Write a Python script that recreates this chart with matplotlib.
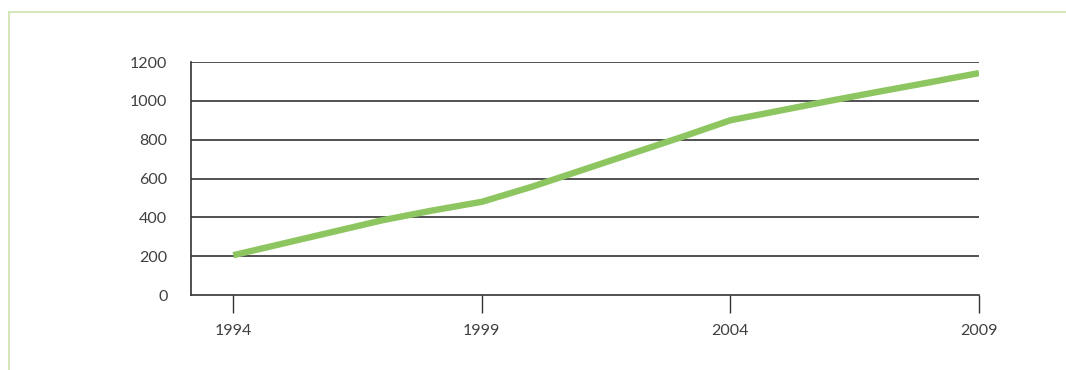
import matplotlib.pyplot as plt
from matplotlib.lines import Line2D

# values
years = [1994, 1995, 1996, 1997, 1998, 1999, 2000, 2001,
         2002, 2003, 2004, 2005, 2006, 2007, 2008, 2009]
values = [205, 265, 325, 385, 435, 480, 557, 642,
          727, 812, 900, 950, 1000, 1048, 1095, 1143]
x_ticks = [1994, 1999, 2004, 2009]
y_ticks = [0, 200, 400, 600, 800, 1000, 1200]

plt.rcParams['font.family'] = ['Lato', 'DejaVu Sans']

fig = plt.figure(figsize=(10.66, 3.70), dpi=100)
ax = fig.add_axes([0.1792, 0.2027, 0.7392, 0.6297])

# horizontal gridlines at the y ticks
for y in y_ticks[1:]:
    ax.axhline(y, color='#333333', linewidth=1.2, zorder=1)

ax.plot(years, values, color='#8dc660', linewidth=4.6,
        solid_capstyle='butt', zorder=3)

ax.set_xlim(1993.15, 2009)
ax.set_ylim(0, 1200)
ax.set_xticks(x_ticks)
ax.set_yticks(y_ticks)
ax.set_xticklabels([str(y) for y in x_ticks])

ax.tick_params(axis='x', direction='out', length=13, width=1.0,
               color='#333333', pad=8, labelsize=11.5, labelcolor='#404040')
ax.tick_params(axis='y', length=0, pad=17, labelsize=11.5,
               labelcolor='#404040')

for side in ['top', 'right']:
    ax.spines[side].set_visible(False)
for side in ['left', 'bottom']:
    ax.spines[side].set_color('#333333')
    ax.spines[side].set_linewidth(1.2)

# thin light green frame around the figure (top and left)
fig.add_artist(Line2D([9 / 1066, 1.0], [1 - 12 / 370, 1 - 12 / 370],
                      transform=fig.transFigure, color='#cfe3b0', linewidth=1.2))
fig.add_artist(Line2D([9 / 1066, 9 / 1066], [0, 1 - 12 / 370],
                      transform=fig.transFigure, color='#cfe3b0', linewidth=1.2))

fig.savefig('out.png', dpi=100)
